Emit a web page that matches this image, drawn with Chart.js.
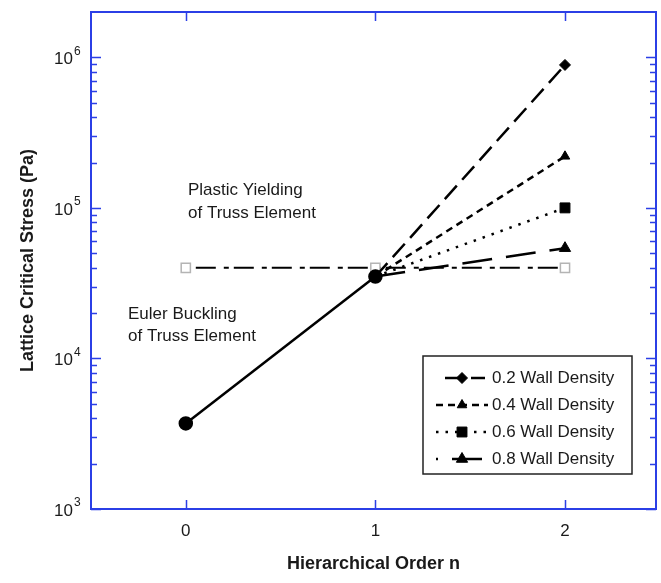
<!DOCTYPE html>
<html lang="en">
<head>
<meta charset="UTF-8">
<title>Lattice Critical Stress</title>
<style>
  body { margin: 0; background: #fff; }
  #chart { display: block; }
</style>
</head>
<body>
<canvas id="chart" width="661" height="583"></canvas>
<script src="https://cdn.jsdelivr.net/npm/chart.js"></script>
<script>
// hierarchical order on x, critical stress (Pa) on a log y axis
const orderTicks = [0, 1, 2];
const decadeTicks = [1e3, 1e4, 1e5, 1e6];

const eulerOrder = [0, 1];
const eulerStress = [3.7e3, 3.5e4];

const plasticOrder = [0, 1, 2];
const plasticStress = [4e4, 4e4, 4e4];

const wallOrder = [1, 2];
const wallLabels = ['0.2 Wall Density', '0.4 Wall Density', '0.6 Wall Density', '0.8 Wall Density'];
const wall02 = [3.5e4, 8.9e5];
const wall04 = [3.5e4, 2.2e5];
const wall06 = [3.5e4, 1.0e5];
const wall08 = [3.5e4, 5.4e4];

const FONT = 'Arial, "Liberation Sans", sans-serif';
const frameColor = '#2b3fe6';
const textColor = '#1a1a1a';

function pts(xs, ys) {
  return xs.map((x, i) => ({ x: x, y: ys[i] }));
}

// wall density lines start at n=1 without a marker
function wallSet(label, values, dash, style, radius, key) {
  return {
    label: label,
    data: pts(wallOrder, values),
    borderColor: '#000',
    backgroundColor: '#000',
    borderWidth: 2.5,
    borderDash: dash,
    pointStyle: style,
    pointRadius: [0, radius],
    pointBackgroundColor: '#000',
    pointBorderColor: '#000',
    pointBorderWidth: 1,
    isWall: true,
    key: key // legend sample: start x, end x, dash offset
  };
}

const datasets = [
  {
    label: 'Euler Buckling',
    data: pts(eulerOrder, eulerStress),
    borderColor: '#000',
    borderWidth: 2.5,
    pointStyle: 'circle',
    pointRadius: 6,
    pointBackgroundColor: '#000',
    pointBorderColor: '#000'
  },
  wallSet(wallLabels[0], wall02, [18, 8], 'rectRot', 5.5, [445, 485, 0]),
  wallSet(wallLabels[1], wall04, [7, 5], 'triangle', 5.5, [436, 488, 0]),
  wallSet(wallLabels[2], wall06, [2.5, 7], 'rect', 7, [436, 488, 0]),
  wallSet(wallLabels[3], wall08, [30, 14], 'triangle', 6.5, [436, 486, 28]),
  {
    label: 'Plastic Yielding',
    data: pts(plasticOrder, plasticStress),
    borderColor: '#000',
    borderWidth: 2,
    borderDash: [5, 5, 20, 8],
    pointStyle: 'rect',
    pointRadius: 6.5,
    pointBackgroundColor: '#fff',
    pointBorderColor: '#b4b4b4',
    pointBorderWidth: 1.5
  }
];

// box, inward ticks and tick labels
const framePlugin = {
  id: 'frame',
  afterDraw(chart) {
    const { ctx, chartArea: a, scales: { x, y } } = chart;
    ctx.save();
    ctx.strokeStyle = frameColor;
    ctx.lineWidth = 1.5;
    ctx.beginPath();
    decadeTicks.forEach(d => {
      for (let m = 1; m <= 9; m++) {
        const v = d * m;
        if (v >= y.max) break;
        const py = Math.round(y.getPixelForValue(v)) + 0.5;
        const len = m === 1 ? 10 : 6;
        ctx.moveTo(a.left, py); ctx.lineTo(a.left + len, py);
        ctx.moveTo(a.right, py); ctx.lineTo(a.right - len, py);
      }
    });
    orderTicks.forEach(n => {
      const px = Math.round(x.getPixelForValue(n)) + 0.5;
      ctx.moveTo(px, a.bottom); ctx.lineTo(px, a.bottom - 9);
      ctx.moveTo(px, a.top); ctx.lineTo(px, a.top + 9);
    });
    ctx.stroke();

    ctx.lineWidth = 2;
    ctx.strokeRect(a.left, a.top, a.right - a.left, a.bottom - a.top);

    ctx.fillStyle = textColor;
    ctx.textBaseline = 'middle';
    decadeTicks.forEach(d => {
      const py = y.getPixelForValue(d);
      ctx.font = '17px ' + FONT;
      ctx.textAlign = 'right';
      ctx.fillText('10', 73, py + 2);
      ctx.font = '12px ' + FONT;
      ctx.textAlign = 'left';
      ctx.fillText(String(Math.round(Math.log10(d))), 74, py - 6);
    });
    ctx.font = '17px ' + FONT;
    ctx.textAlign = 'center';
    orderTicks.forEach(n => {
      ctx.fillText(String(n), x.getPixelForValue(n), 531);
    });

    // region notes
    ctx.textAlign = 'left';
    ctx.fillText('Plastic Yielding', 188, 190);
    ctx.fillText('of Truss Element', 188, 213);
    ctx.fillText('Euler Buckling', 128, 314);
    ctx.fillText('of Truss Element', 128, 336);

    // legend box
    const bx = 423, by = 356, bw = 209, bh = 118;
    ctx.fillStyle = '#fff';
    ctx.fillRect(bx, by, bw, bh);
    ctx.strokeStyle = '#222';
    ctx.lineWidth = 1.5;
    ctx.strokeRect(bx, by, bw, bh);
    const rows = [378, 405, 432, 459];
    chart.data.datasets.filter(ds => ds.isWall).forEach((ds, i) => {
      const ry = rows[i];
      const [x0, x1, off] = ds.key;
      ctx.strokeStyle = '#000';
      ctx.lineWidth = ds.borderWidth;
      ctx.setLineDash(ds.borderDash);
      ctx.lineDashOffset = off;
      ctx.beginPath();
      ctx.moveTo(x0, ry);
      ctx.lineTo(x1, ry);
      ctx.stroke();
      ctx.setLineDash([]);
      ctx.lineDashOffset = 0;
      ctx.fillStyle = '#000';
      ctx.lineWidth = 1;
      Chart.helpers.drawPoint(ctx, {
        pointStyle: ds.pointStyle,
        radius: ds.pointRadius[1],
        rotation: 0,
        borderWidth: 1
      }, 462, ry);
      ctx.fillStyle = textColor;
      ctx.font = '17px ' + FONT;
      ctx.textAlign = 'left';
      ctx.fillText(ds.label, 492, ry);
    });
    ctx.restore();
  }
};

new Chart(document.getElementById('chart').getContext('2d'), {
  type: 'line',
  data: { datasets: datasets },
  options: {
    responsive: false,
    animation: false,
    layout: { autoPadding: false, padding: { top: 12, right: 5, left: 0, bottom: 0 } },
    plugins: { legend: { display: false }, tooltip: { enabled: false } },
    scales: {
      x: {
        type: 'linear',
        min: -0.5,
        max: 2.48,
        grid: { display: false, drawTicks: false },
        border: { display: false },
        ticks: { display: false },
        title: {
          display: true,
          text: 'Hierarchical Order n',
          color: textColor,
          font: { family: FONT, size: 18, weight: 'bold' },
          padding: { top: 0, bottom: 8 }
        },
        afterFit(scale) { scale.height = 74; }
      },
      y: {
        type: 'logarithmic',
        min: 1e3,
        max: 2e6,
        grid: { display: false, drawTicks: false },
        border: { display: false },
        ticks: { display: false },
        title: {
          display: true,
          text: 'Lattice Critical Stress (Pa)',
          color: textColor,
          font: { family: FONT, size: 18, weight: 'bold' },
          padding: { top: 17, bottom: 0 }
        },
        afterFit(scale) { scale.width = 91; }
      }
    }
  },
  plugins: [framePlugin]
});
</script>
</body>
</html>
